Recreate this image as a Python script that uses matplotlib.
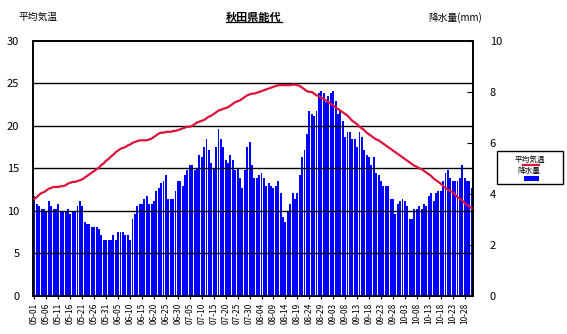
import numpy as np
import matplotlib
matplotlib.use("Agg")
import matplotlib.pyplot as plt
from matplotlib.lines import Line2D
from matplotlib.patches import Rectangle

plt.rcParams['font.family'] = ['Noto Sans CJK JP', 'DejaVu Sans']

# daily mean temperature (deg C), 05-01 .. 10-31
temp = [11.4, 11.6, 11.9, 12.1, 12.2, 12.4, 12.6, 12.7, 12.8, 12.8,
        12.8, 12.9, 12.9, 13.0, 13.2, 13.3, 13.4, 13.4, 13.5, 13.6,
        13.7, 13.9, 14.1, 14.3, 14.5, 14.7, 14.9, 15.1, 15.4, 15.6,
        15.9, 16.1, 16.4, 16.6, 16.9, 17.1, 17.3, 17.4, 17.5, 17.7,
        17.8, 18.0, 18.1, 18.2, 18.3, 18.3, 18.3, 18.3, 18.4, 18.5,
        18.7, 18.9, 19.1, 19.2, 19.2, 19.3, 19.3, 19.3, 19.4, 19.4,
        19.5, 19.6, 19.7, 19.8, 19.9, 19.9, 20.0, 20.2, 20.4, 20.5,
        20.6, 20.7, 20.9, 21.1, 21.2, 21.4, 21.6, 21.8, 21.9, 22.0,
        22.1, 22.2, 22.4, 22.6, 22.8, 22.9, 23.0, 23.2, 23.4, 23.6,
        23.7, 23.8, 23.8, 23.9, 24.0, 24.1, 24.2, 24.3, 24.4, 24.5,
        24.6, 24.7, 24.8, 24.8, 24.8, 24.8, 24.8, 24.8, 24.85, 24.85,
        24.8, 24.7, 24.5, 24.3, 24.1, 24.0, 24.0, 23.8, 23.6, 23.5,
        23.3, 23.2, 23.0, 22.8, 22.6, 22.4, 22.2, 22.0, 21.8, 21.6,
        21.4, 21.2, 20.9, 20.6, 20.4, 20.2, 19.9, 19.7, 19.5, 19.2,
        19.0, 18.8, 18.6, 18.4, 18.3, 18.1, 17.9, 17.7, 17.5, 17.3,
        17.1, 16.9, 16.7, 16.5, 16.3, 16.1, 15.9, 15.7, 15.5, 15.3,
        15.2, 15.0, 14.9, 14.7, 14.5, 14.3, 14.1, 13.8, 13.6, 13.4,
        13.2, 12.9, 12.7, 12.5, 12.3, 12.2, 11.9, 11.6, 11.4, 11.2,
        10.9, 10.7, 10.5, 10.3]

# daily precipitation (mm)
precip = [3.91, 3.60, 3.52, 3.40, 3.40, 3.32, 3.71, 3.52, 3.40, 3.40,
          3.60, 3.32, 3.32, 3.32, 3.40, 3.20, 3.32, 3.32, 3.52, 3.71,
          3.52, 2.89, 2.81, 2.81, 2.69, 2.69, 2.69, 2.62, 2.38, 2.18,
          2.18, 2.18, 2.18, 2.38, 2.18, 2.50, 2.50, 2.50, 2.38, 2.38,
          2.18, 3.01, 3.20, 3.52, 3.60, 3.60, 3.79, 3.91, 3.60, 3.60,
          3.71, 4.11, 4.22, 4.42, 4.50, 4.73, 3.79, 3.79, 3.79, 4.11,
          4.50, 4.50, 4.30, 4.73, 4.93, 5.13, 5.13, 4.93, 5.01, 5.52,
          5.44, 5.83, 6.15, 5.71, 5.20, 5.01, 5.83, 6.54, 6.15, 5.83,
          5.32, 5.20, 5.52, 5.32, 4.93, 5.01, 4.62, 4.22, 4.93, 5.83,
          6.03, 5.13, 4.62, 4.62, 4.73, 4.81, 4.62, 4.30, 4.42, 4.30,
          4.22, 4.30, 4.50, 4.03, 3.09, 2.89, 3.32, 3.60, 4.03, 3.79,
          4.03, 4.73, 5.44, 5.71, 6.34, 7.24, 7.13, 7.05, 7.24, 7.95,
          8.03, 7.95, 7.60, 7.83, 7.95, 8.03, 7.64, 7.13, 7.24, 6.85,
          6.22, 6.42, 6.42, 6.15, 6.15, 5.83, 6.42, 6.22, 5.71, 5.52,
          5.44, 5.13, 5.44, 4.81, 4.73, 4.50, 4.30, 4.30, 4.30, 3.79,
          3.79, 3.20, 3.60, 3.71, 3.79, 3.71, 3.52, 3.01, 3.01, 3.40,
          3.40, 3.52, 3.40, 3.60, 3.52, 3.91, 4.03, 3.71, 4.03, 4.11,
          4.11, 4.50, 4.81, 4.93, 4.62, 4.50, 4.50, 4.50, 4.62, 5.13,
          4.62, 4.50, 4.50, 4.22]

tick_labels = ['05-01', '05-06', '05-11', '05-16', '05-21', '05-26', '05-31',
               '06-05', '06-10', '06-15', '06-20', '06-25', '06-30',
               '07-05', '07-10', '07-15', '07-20', '07-25', '07-30',
               '08-04', '08-09', '08-14', '08-19', '08-24', '08-29',
               '09-03', '09-08', '09-13', '09-18', '09-23', '09-28',
               '10-03', '10-08', '10-13', '10-18', '10-23', '10-28']

x = np.arange(len(precip))

fig = plt.figure(figsize=(5.67, 3.34), dpi=100)
ax = fig.add_axes([0.0587, 0.1147, 0.7755, 0.7626])
ax2 = ax.twinx()

# bars on the precipitation axis, underneath
ax2.bar(x, precip, width=0.8, color='#0000ff', linewidth=0)
ax2.set_ylim(0, 10)
ax2.set_yticks([0, 2, 4, 6, 8, 10])
ax2.tick_params(axis='y', direction='in', length=4, labelsize=8, pad=12)

# temperature on top
ax.set_zorder(ax2.get_zorder() + 1)
ax.patch.set_visible(False)
for v in [5, 10, 15, 20, 25]:
    ax.axhline(v, color='black', linewidth=1, zorder=1)
ax.plot(x, temp, color='#dc143c', linewidth=1.6, zorder=3)
ax.set_ylim(0, 30)
ax.set_yticks(range(0, 31, 5))
ax.set_xlim(-0.5, len(precip) - 0.5)
ax.set_xticks(x[::5])
ax.set_xticklabels(tick_labels, rotation=90, fontsize=6)
ax.tick_params(axis='y', length=0, labelsize=8, pad=10)
ax.tick_params(axis='x', length=2, pad=3)

for a in (ax, ax2):
    for s in a.spines.values():
        s.set_linewidth(1.2)

# title, underlined
fig.text(0.448, 0.948, '秋田県能代', ha='center', va='center', fontsize=8, fontweight='bold')
fig.add_artist(Line2D([0.399, 0.497], [0.934, 0.934], color='black', linewidth=0.9))
fig.text(0.032, 0.948, '平均気温', ha='left', va='center', fontsize=7)
fig.text(0.755, 0.948, '降水量(mm)', ha='left', va='center', fontsize=7)

# legend box
fig.add_artist(Rectangle((0.877, 0.449), 0.116, 0.099, transform=fig.transFigure,
                         facecolor='white', edgecolor='black', linewidth=1))
fig.text(0.935, 0.52, '平均気温', ha='center', va='center', fontsize=5.5)
fig.add_artist(Line2D([0.922, 0.951], [0.505, 0.505], color='#dc143c', linewidth=1.6))
fig.text(0.933, 0.487, '降水量', ha='center', va='center', fontsize=5.5)
fig.add_artist(Rectangle((0.924, 0.458), 0.027, 0.016, transform=fig.transFigure,
                         facecolor='#0000ff', edgecolor='none'))

plt.savefig('out.png', dpi=100)
plt.close()
